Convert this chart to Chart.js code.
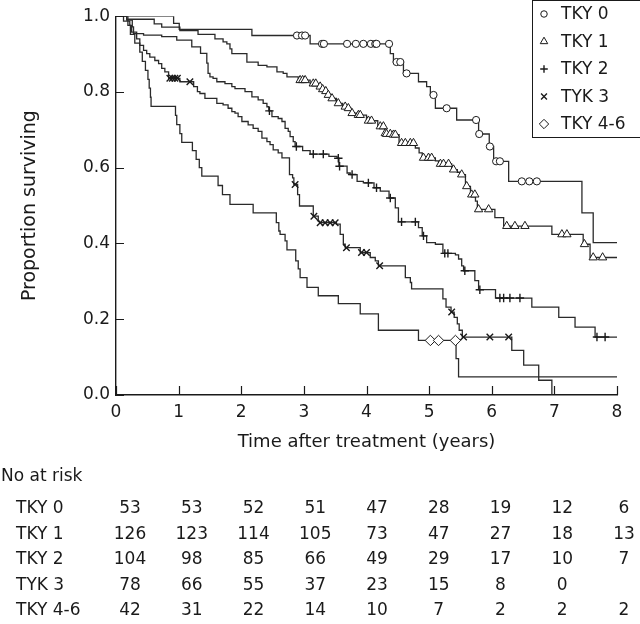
<!DOCTYPE html>
<html><head><meta charset="utf-8">
<script src="https://cdn.jsdelivr.net/npm/chart.js@4.4.1/dist/chart.umd.min.js"></script>
<style>html,body{margin:0;padding:0;background:#fff;}canvas{display:block}</style>
</head><body>
<canvas id="c" width="640" height="624"></canvas>
<script>
// ---------- data ----------
const seriesNames = ['TKY 0', 'TKY 1', 'TKY 2', 'TYK 3', 'TKY 4-6'];
const xTicks = [0, 1, 2, 3, 4, 5, 6, 7, 8];
const yTicks = [0, 0.2, 0.4, 0.6, 0.8, 1.0];

const tky0Times = [0, 0.92, 1.01, 2.17, 3.10, 4.38, 4.43, 4.59, 4.83, 4.96, 5.02, 5.10, 5.44, 5.79, 5.96, 6.03, 6.27, 7.44, 7.62, 8.0];
const tky0Surv  = [1, 0.981, 0.965, 0.949, 0.927, 0.901, 0.879, 0.849, 0.827, 0.814, 0.792, 0.757, 0.726, 0.689, 0.656, 0.617, 0.564, 0.481, 0.402, 0.402];
const tky0Censor = [2.89, 2.97, 3.02, 3.29, 3.32, 3.69, 3.83, 3.95, 4.07, 4.14, 4.16, 4.36, 4.48, 4.54, 4.64, 5.07, 5.28, 5.75, 5.80, 5.97, 6.07, 6.13, 6.48, 6.60, 6.72];

const tky1Times = [0, 0.17, 0.61, 0.73, 1.02, 1.31, 1.58, 1.71, 1.77, 1.82, 1.85, 2.09, 2.27, 2.41, 2.57, 2.67, 2.73, 2.91, 3.10, 3.22, 3.28, 3.33, 3.37, 3.43, 3.52, 3.62, 3.69, 3.75, 3.84, 4.00, 4.18, 4.29, 4.31, 4.40, 4.52, 4.78, 4.84, 4.89, 5.10, 5.15, 5.36, 5.45, 5.50, 5.58, 5.66, 5.74, 5.77, 6.05, 6.19, 6.96, 7.46, 7.57, 8.0];
const tky1Surv  = [1, 0.992, 0.980, 0.971, 0.962, 0.952, 0.940, 0.932, 0.927, 0.914, 0.901, 0.879, 0.870, 0.866, 0.853, 0.849, 0.840, 0.831, 0.822, 0.814, 0.807, 0.802, 0.792, 0.783, 0.770, 0.761, 0.757, 0.744, 0.739, 0.724, 0.709, 0.691, 0.689, 0.687, 0.665, 0.652, 0.639, 0.626, 0.618, 0.610, 0.595, 0.588, 0.582, 0.551, 0.529, 0.512, 0.490, 0.468, 0.446, 0.424, 0.398, 0.363, 0.363];
const tky1Censor = [2.94, 2.98, 3.02, 3.15, 3.19, 3.26, 3.30, 3.35, 3.39, 3.45, 3.55, 3.66, 3.71, 3.77, 3.87, 3.90, 4.03, 4.08, 4.22, 4.27, 4.30, 4.32, 4.38, 4.43, 4.46, 4.56, 4.62, 4.70, 4.75, 4.91, 4.99, 5.04, 5.18, 5.23, 5.31, 5.39, 5.52, 5.60, 5.68, 5.73, 5.79, 5.95, 6.24, 6.37, 6.53, 7.12, 7.20, 7.48, 7.62, 7.77];

const tky2Times = [0, 0.17, 0.26, 0.28, 0.44, 0.73, 0.97, 1.21, 1.35, 1.45, 1.47, 1.50, 1.55, 1.61, 1.74, 1.85, 1.90, 2.06, 2.17, 2.27, 2.35, 2.41, 2.44, 2.49, 2.59, 2.65, 2.70, 2.75, 2.78, 2.83, 2.86, 2.98, 3.10, 3.40, 3.53, 3.56, 3.69, 3.74, 3.85, 3.95, 4.12, 4.22, 4.36, 4.46, 4.51, 4.83, 4.89, 4.96, 5.10, 5.22, 5.42, 5.47, 5.52, 5.55, 5.73, 5.79, 6.06, 6.64, 7.07, 7.33, 7.65, 8.0];
const tky2Surv  = [1, 0.990, 0.972, 0.954, 0.950, 0.946, 0.937, 0.919, 0.902, 0.876, 0.849, 0.840, 0.836, 0.827, 0.822, 0.814, 0.809, 0.801, 0.787, 0.779, 0.770, 0.761, 0.750, 0.735, 0.730, 0.722, 0.704, 0.696, 0.682, 0.669, 0.656, 0.645, 0.636, 0.630, 0.625, 0.604, 0.586, 0.582, 0.564, 0.560, 0.547, 0.538, 0.520, 0.494, 0.457, 0.442, 0.420, 0.402, 0.398, 0.374, 0.370, 0.359, 0.341, 0.328, 0.302, 0.278, 0.256, 0.232, 0.205, 0.179, 0.153, 0.153];
const tky2Censor = [2.45, 2.88, 3.15, 3.31, 3.55, 3.57, 3.77, 4.03, 4.16, 4.38, 4.56, 4.78, 4.91, 5.25, 5.30, 5.57, 5.81, 6.13, 6.19, 6.29, 6.45, 7.68, 7.81];

const tyk3Times = [0, 0.12, 0.22, 0.25, 0.33, 0.38, 0.44, 0.49, 0.54, 0.62, 0.68, 0.73, 0.78, 0.84, 1.02, 1.24, 1.30, 1.34, 1.42, 1.61, 1.71, 1.79, 1.85, 1.90, 1.95, 2.01, 2.11, 2.19, 2.27, 2.33, 2.41, 2.46, 2.51, 2.59, 2.65, 2.77, 2.82, 2.84, 2.90, 2.93, 3.15, 3.23, 3.25, 3.52, 3.58, 3.63, 3.66, 3.90, 4.06, 4.14, 4.19, 4.62, 4.70, 4.72, 5.22, 5.27, 5.35, 5.40, 5.45, 5.48, 5.53, 6.32, 6.51, 6.75, 6.96];
const tyk3Surv  = [1, 0.987, 0.976, 0.958, 0.940, 0.923, 0.910, 0.901, 0.892, 0.883, 0.875, 0.862, 0.853, 0.836, 0.827, 0.814, 0.801, 0.796, 0.783, 0.770, 0.766, 0.757, 0.748, 0.744, 0.735, 0.722, 0.713, 0.704, 0.696, 0.678, 0.669, 0.661, 0.647, 0.639, 0.626, 0.582, 0.573, 0.556, 0.529, 0.499, 0.472, 0.459, 0.455, 0.451, 0.424, 0.398, 0.389, 0.376, 0.363, 0.354, 0.341, 0.310, 0.297, 0.280, 0.254, 0.232, 0.219, 0.205, 0.188, 0.171, 0.153, 0.118, 0.079, 0.039, 0.0];
const tyk3Censor = [0.86, 0.90, 0.94, 0.98, 1.18, 2.86, 3.16, 3.26, 3.34, 3.42, 3.50, 3.68, 3.92, 4.00, 4.21, 5.36, 5.55, 5.97, 6.27];

const tky46Times = [0, 0.19, 0.23, 0.30, 0.38, 0.42, 0.47, 0.51, 0.53, 0.55, 0.56, 0.95, 0.97, 1.02, 1.05, 1.22, 1.28, 1.33, 1.37, 1.63, 1.70, 1.82, 2.19, 2.56, 2.60, 2.62, 2.70, 2.73, 2.87, 2.91, 2.94, 3.05, 3.23, 3.55, 3.90, 4.19, 4.83, 5.43, 5.47, 8.0];
const tky46Surv  = [1, 0.976, 0.952, 0.929, 0.905, 0.881, 0.857, 0.833, 0.810, 0.786, 0.762, 0.738, 0.714, 0.690, 0.667, 0.645, 0.622, 0.600, 0.578, 0.553, 0.529, 0.503, 0.481, 0.455, 0.433, 0.424, 0.407, 0.383, 0.354, 0.333, 0.310, 0.284, 0.262, 0.241, 0.214, 0.171, 0.144, 0.096, 0.048, 0.048];
const tky46Censor = [5.02, 5.15, 5.42];

const riskTimes = [0, 1, 2, 3, 4, 5, 6, 7, 8];
const riskTKY0  = [53, 53, 52, 51, 47, 28, 19, 12, 6];
const riskTKY1  = [126, 123, 114, 105, 73, 47, 27, 18, 13];
const riskTKY2  = [104, 98, 85, 66, 49, 29, 17, 10, 7];
const riskTYK3  = [78, 66, 55, 37, 23, 15, 8, 0, null];
const riskTKY46 = [42, 31, 22, 14, 10, 7, 2, 2, 2];

// ---------- build ----------
const FONT = '"DejaVu Sans", sans-serif';
const INK = '#1a1a1a';
const LINE = '#2a2a2a';
const styles = ['circle', 'triangle', 'cross', 'crossRot', 'rectRot'];
const radii = [3.6, 4.8, 4.2, 4.6, 5.2];
const widths = [1, 1, 1.4, 1.4, 1];
const allTimes = [tky0Times, tky1Times, tky2Times, tyk3Times, tky46Times];
const allSurv = [tky0Surv, tky1Surv, tky2Surv, tyk3Surv, tky46Surv];
const allCensor = [tky0Censor, tky1Censor, tky2Censor, tyk3Censor, tky46Censor];
const riskRows = [riskTKY0, riskTKY1, riskTKY2, riskTYK3, riskTKY46];

function stepValue(times, surv, t) {
  let v = surv[0];
  for (let i = 0; i < times.length; i++) { if (times[i] <= t) v = surv[i]; }
  return v;
}

const datasets = [];
seriesNames.forEach((name, i) => {
  datasets.push({
    label: name + ' censored', order: 0,
    data: allCensor[i].map(t => ({x: t, y: stepValue(allTimes[i], allSurv[i], t)})),
    showLine: false, pointStyle: styles[i], pointRadius: radii[i], pointHoverRadius: radii[i],
    pointBorderWidth: widths[i], pointBorderColor: INK, pointBackgroundColor: '#ffffff'
  });
});
seriesNames.forEach((name, i) => {
  datasets.push({
    label: name, order: 1,
    data: allTimes[i].map((t, k) => ({x: t, y: allSurv[i][k]})),
    showLine: true, stepped: 'before', borderColor: LINE, borderWidth: 1.3,
    pointRadius: 0, pointHoverRadius: 0, fill: false, tension: 0
  });
});

const innerTicks = {
  id: 'innerTicks',
  afterDraw(chart) {
    const {ctx, chartArea: a, scales: {x, y}} = chart;
    ctx.save(); ctx.strokeStyle = INK; ctx.lineWidth = 1.2; ctx.beginPath();
    x.ticks.forEach(t => { const px = Math.round(x.getPixelForValue(t.value)) + 0.5; ctx.moveTo(px, a.bottom); ctx.lineTo(px, a.bottom - 9); });
    y.ticks.forEach(t => { const py = Math.round(y.getPixelForValue(t.value)) + 0.5; ctx.moveTo(a.left, py); ctx.lineTo(a.left + 8, py); });
    ctx.stroke(); ctx.restore();
  }
};

function marker(ctx, style, r, bw, x, y) {
  ctx.fillStyle = '#fff'; ctx.strokeStyle = INK; ctx.lineWidth = bw;
  if (Chart.helpers && Chart.helpers.drawPoint) {
    Chart.helpers.drawPoint(ctx, {pointStyle: style, radius: r, borderWidth: bw, rotation: 0}, x, y);
    return;
  }
  ctx.beginPath(); ctx.arc(x, y, r, 0, Math.PI * 2); ctx.fill(); ctx.stroke();
}

const legendBox = {
  id: 'legendBox',
  afterDraw(chart) {
    const {ctx} = chart;
    ctx.save();
    ctx.fillStyle = '#fff'; ctx.fillRect(532, 0, 120, 137);
    ctx.strokeStyle = INK; ctx.lineWidth = 1; ctx.strokeRect(532.5, 0.5, 130, 137);
    seriesNames.forEach((name, i) => {
      const y = 14 + i * 27.5;
      marker(ctx, styles[i], radii[i] * 0.9, widths[i], 544, y);
      ctx.fillStyle = INK; ctx.font = '17px ' + FONT; ctx.textAlign = 'left'; ctx.textBaseline = 'middle';
      ctx.fillText(name, 561, y + 1);
    });
    ctx.restore();
  }
};

const riskTable = {
  id: 'riskTable',
  afterDraw(chart) {
    const {ctx, scales: {x}} = chart;
    const c0 = x.getPixelForValue(riskTimes[0]) + 14;
    const c8 = x.getPixelForValue(riskTimes[riskTimes.length - 1]) + 7;
    ctx.save(); ctx.fillStyle = INK; ctx.font = '17px ' + FONT; ctx.textBaseline = 'middle';
    ctx.textAlign = 'left'; ctx.fillText('No at risk', 1, 477);
    riskRows.forEach((row, i) => {
      const y = 509 + i * 25.5;
      ctx.textAlign = 'left'; ctx.fillText(seriesNames[i], 16, y);
      ctx.textAlign = 'center';
      row.forEach((n, j) => {
        if (n === null) return;
        const cx = c0 + (c8 - c0) * j / (riskTimes.length - 1);
        ctx.fillText(String(n), cx, y);
      });
    });
    ctx.restore();
  }
};

new Chart(document.getElementById('c'), {
  type: 'scatter',
  data: {datasets},
  options: {
    responsive: false, animation: false, devicePixelRatio: 1,
    layout: {padding: {left: 0, right: 23, top: 14, bottom: 164}},
    plugins: {legend: {display: false}, tooltip: {enabled: false}},
    events: [],
    scales: {
      x: {
        type: 'linear', min: 0, max: 8,
        afterBuildTicks: s => { s.ticks = xTicks.map(v => ({value: v})); },
        grid: {display: false, drawTicks: false},
        border: {display: true, color: INK, width: 1.4},
        ticks: {color: INK, font: {family: FONT, size: 17}, padding: 7, maxRotation: 0, autoSkip: false, callback: v => String(v)},
        title: {display: true, text: 'Time after treatment (years)', color: INK, font: {family: FONT, size: 18}, padding: {top: 0, bottom: 7}},
        afterFit: s => { s.height = 65; }
      },
      y: {
        type: 'linear', min: 0, max: 1,
        afterBuildTicks: s => { s.ticks = yTicks.map(v => ({value: v})); },
        grid: {display: false, drawTicks: false},
        border: {display: true, color: INK, width: 1.4},
        ticks: {color: INK, font: {family: FONT, size: 17}, padding: 6, autoSkip: false, callback: v => Number(v).toFixed(1)},
        title: {display: true, text: 'Proportion surviving', color: INK, font: {family: FONT, size: 19}, padding: {top: 19, bottom: 0}},
        afterFit: s => { s.width = 116; }
      }
    }
  },
  plugins: [innerTicks, legendBox, riskTable]
});
</script>
</body></html>
